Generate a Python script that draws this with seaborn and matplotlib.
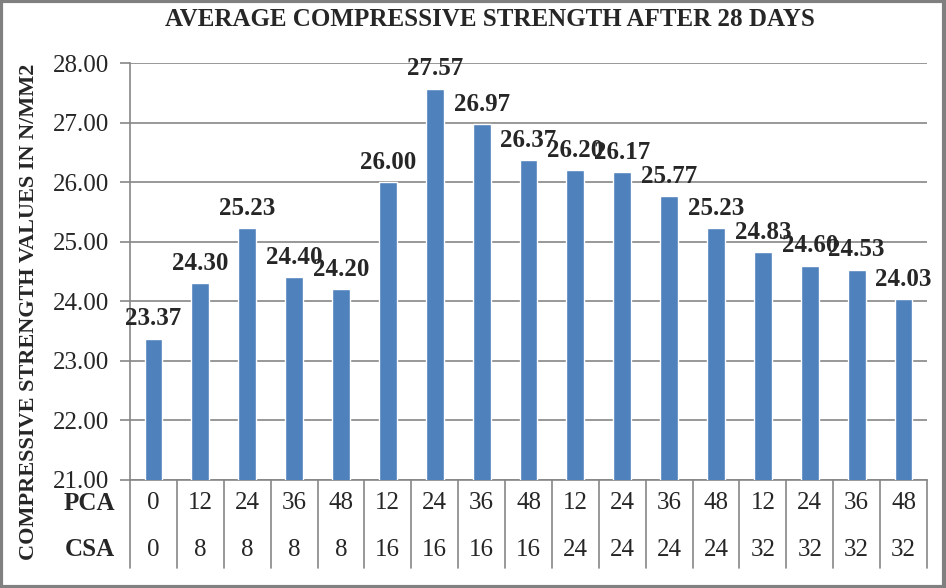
import pandas as pd
import numpy as np
import matplotlib.pyplot as plt
import seaborn as sns
from matplotlib.patches import Rectangle

# Mix proportions (PCA / CSA) and 28-day strengths
pca = ["0", "12", "24", "36", "48", "12", "24", "36", "48", "12", "24", "36", "48", "12", "24", "36", "48"]
csa = ["0", "8", "8", "8", "8", "16", "16", "16", "16", "24", "24", "24", "24", "32", "32", "32", "32"]
strength = [23.37, 24.30, 25.23, 24.40, 24.20, 26.00, 27.57, 26.97, 26.37,
            26.20, 26.17, 25.77, 25.23, 24.83, 24.60, 24.53, 24.03]

df = pd.DataFrame({"mix": [f"{p}/{c}" for p, c in zip(pca, csa)], "strength": strength})

sns.set_style("white")
plt.rcParams["font.family"] = ["Liberation Serif", "DejaVu Serif"]

W, H = 946, 588
fig = plt.figure(figsize=(W / 100, H / 100), dpi=100)
x0, x1, y0, y1 = 130, 927, 63, 480
ax = fig.add_axes([x0 / W, 1 - y1 / H, (x1 - x0) / W, (y1 - y0) / H])

bar_color = "#4F81BD"
grid_color = "#868686"
sns.barplot(data=df, x="mix", y="strength", color=bar_color, width=0.38,
            saturation=1, ax=ax, zorder=3)

ax.set_ylim(21, 28)
ax.set_xlim(-0.5, len(df) - 0.5)
ax.set_yticks(np.arange(21, 28.01, 1))
ax.set_yticklabels([f"{v:.2f}" for v in np.arange(21, 28.01, 1)], fontsize=18)
ax.yaxis.grid(True, color=grid_color, linewidth=1.2, zorder=0)
ax.set_axisbelow(True)
ax.set_xticks([])
ax.set_xlabel("")
ax.set_ylabel("")
ax.tick_params(axis="y", length=7, width=1.2, color=grid_color, pad=8, left=True)
for side in ["top", "right"]:
    ax.spines[side].set_visible(False)
for side in ["left", "bottom"]:
    ax.spines[side].set_color(grid_color)
    ax.spines[side].set_linewidth(1.2)

# data labels
for i, v in enumerate(strength):
    ax.annotate(f"{v:.2f}", (i, v), xytext=(0, 6), textcoords="offset points",
                ha="center", va="bottom", fontsize=18, fontweight="bold")

# category table under the axis
tr = ax.get_xaxis_transform()
row_pca = -(503 - y1) / (y1 - y0)
row_csa = -(550 - y1) / (y1 - y0)
line_end = -(568 - y1) / (y1 - y0)
for i in range(len(df)):
    ax.text(i, row_pca, pca[i], transform=tr, ha="center", va="center", fontsize=18)
    ax.text(i, row_csa, csa[i], transform=tr, ha="center", va="center", fontsize=18)
for b in np.arange(-0.5, len(df), 1):
    ax.plot([b, b], [0, line_end], transform=tr, color=grid_color, linewidth=1.2,
            clip_on=False)
ax.text(-0.019, row_pca, "PCA", transform=ax.transAxes, ha="right", va="center",
        fontsize=18, fontweight="bold")
ax.text(-0.019, row_csa, "CSA", transform=ax.transAxes, ha="right", va="center",
        fontsize=18, fontweight="bold")

fig.text(490 / W, 1 - 20 / H, "AVERAGE COMPRESSIVE STRENGTH AFTER 28 DAYS",
         ha="center", va="center", fontsize=18, fontweight="bold")
fig.text(29 / W, 1 - 312 / H, "COMPRESSIVE STRENGTH VALUES IN N/MM2", rotation=90,
         ha="center", va="center", fontsize=16, fontweight="bold")

fig.patches.append(Rectangle((0.0015, 0.0025), 0.996, 0.995, transform=fig.transFigure,
                             fill=False, edgecolor="#808080", linewidth=3))

fig.savefig("out.png", dpi=100)
